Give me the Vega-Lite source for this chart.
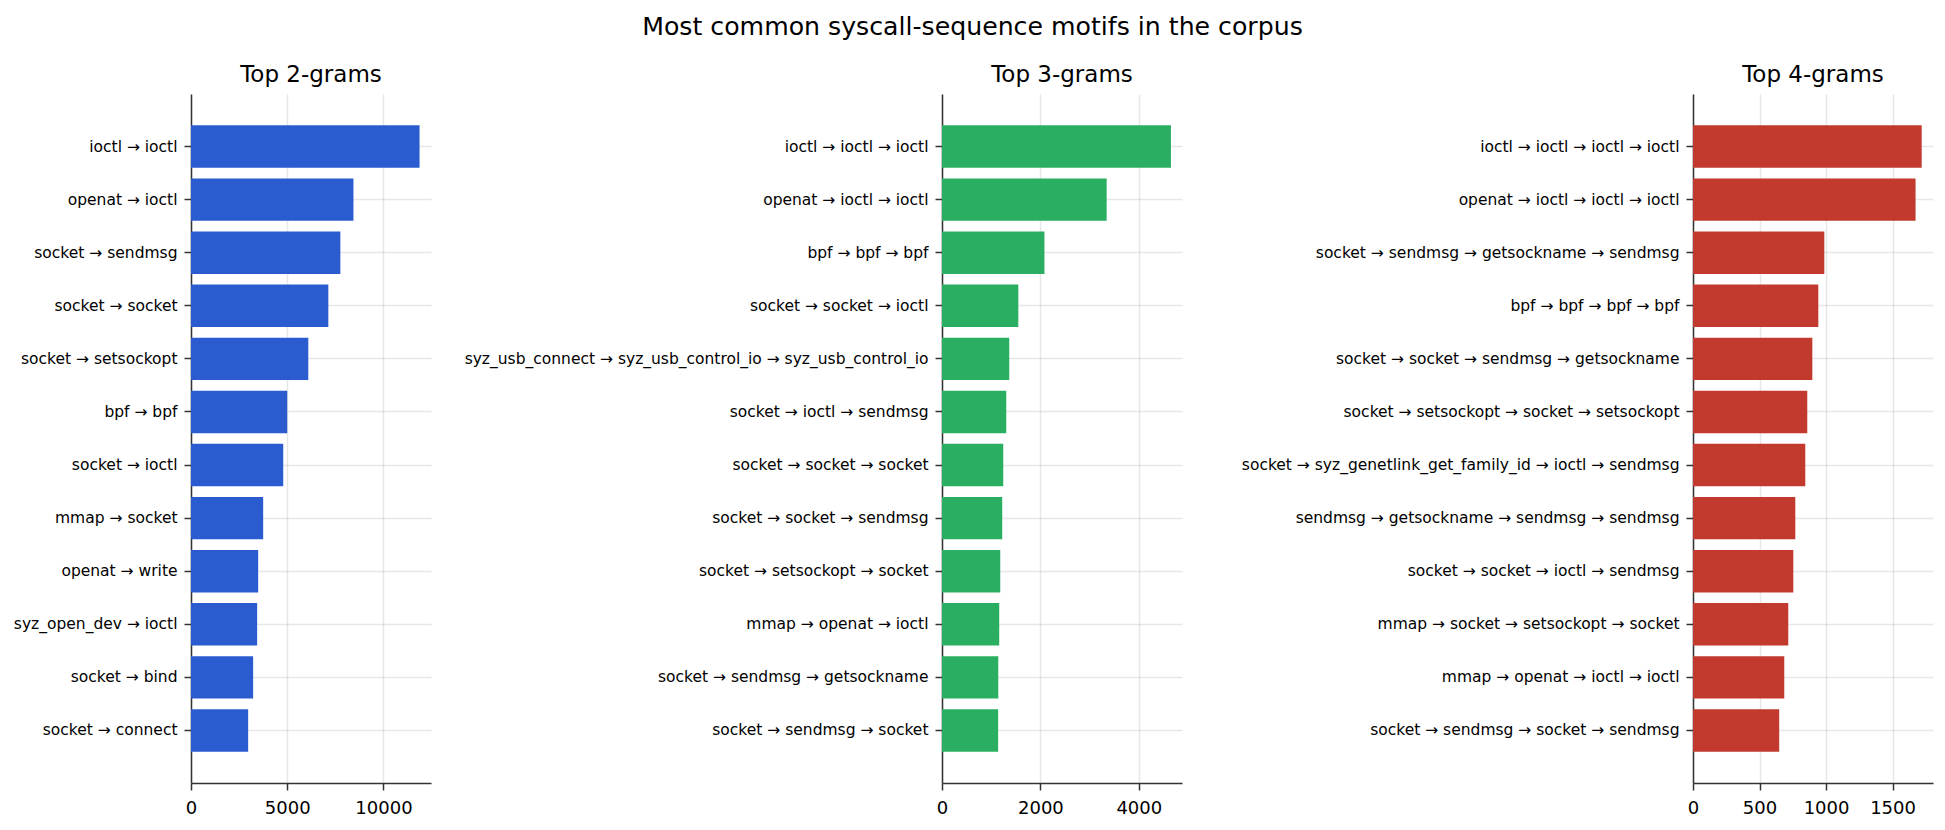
{
  "$schema": "https://vega.github.io/schema/vega-lite/v6.json",
  "padding": {"left": 0, "top": 14, "right": 12, "bottom": 0},
  "title": {
    "text": "Most common syscall-sequence motifs in the corpus",
    "fontSize": 25.2,
    "anchor": "middle",
    "baseline": "alphabetic",
    "offset": 4,
    "dx": 6
  },
  "spacing": 20,
  "datasets": {
    "bigrams": [
      {"motif": "ioctl → ioctl", "count": 11875},
      {"motif": "openat → ioctl", "count": 8440},
      {"motif": "socket → sendmsg", "count": 7760},
      {"motif": "socket → socket", "count": 7135},
      {"motif": "socket → setsockopt", "count": 6094},
      {"motif": "bpf → bpf", "count": 5000},
      {"motif": "socket → ioctl", "count": 4792},
      {"motif": "mmap → socket", "count": 3750},
      {"motif": "openat → write", "count": 3490},
      {"motif": "syz_open_dev → ioctl", "count": 3437},
      {"motif": "socket → bind", "count": 3229},
      {"motif": "socket → connect", "count": 2969}
    ],
    "trigrams": [
      {"motif": "ioctl → ioctl → ioctl", "count": 4653},
      {"motif": "openat → ioctl → ioctl", "count": 3347},
      {"motif": "bpf → bpf → bpf", "count": 2082},
      {"motif": "socket → socket → ioctl", "count": 1551},
      {"motif": "syz_usb_connect → syz_usb_control_io → syz_usb_control_io", "count": 1367},
      {"motif": "socket → ioctl → sendmsg", "count": 1306},
      {"motif": "socket → socket → socket", "count": 1245},
      {"motif": "socket → socket → sendmsg", "count": 1224},
      {"motif": "socket → setsockopt → socket", "count": 1184},
      {"motif": "mmap → openat → ioctl", "count": 1163},
      {"motif": "socket → sendmsg → getsockname", "count": 1144},
      {"motif": "socket → sendmsg → socket", "count": 1141}
    ],
    "fourgrams": [
      {"motif": "ioctl → ioctl → ioctl → ioctl", "count": 1719},
      {"motif": "openat → ioctl → ioctl → ioctl", "count": 1673},
      {"motif": "socket → sendmsg → getsockname → sendmsg", "count": 987},
      {"motif": "bpf → bpf → bpf → bpf", "count": 942},
      {"motif": "socket → socket → sendmsg → getsockname", "count": 897},
      {"motif": "socket → setsockopt → socket → setsockopt", "count": 859},
      {"motif": "socket → syz_genetlink_get_family_id → ioctl → sendmsg", "count": 844},
      {"motif": "sendmsg → getsockname → sendmsg → sendmsg", "count": 769},
      {"motif": "socket → socket → ioctl → sendmsg", "count": 754},
      {"motif": "mmap → socket → setsockopt → socket", "count": 716},
      {"motif": "mmap → openat → ioctl → ioctl", "count": 686},
      {"motif": "socket → sendmsg → socket → sendmsg", "count": 648}
    ]
  },
  "hconcat": [
    {
      "data": {"name": "bigrams"},
      "title": "Top 2-grams",
      "width": 240,
      "height": 689,
      "mark": {"type": "bar", "color": "#2a5cd0"},
      "encoding": {
        "y": {
          "field": "motif", "type": "nominal", "sort": "-x", "title": null,
          "scale": {"paddingInner": 0.2, "paddingOuter": 0.59},
          "axis": {"minExtent": 191}
        },
        "x": {
          "field": "count", "type": "quantitative", "title": null,
          "scale": {"domain": [0, 12469], "nice": false},
          "axis": {"values": [0, 5000, 10000], "format": "d"}
        }
      }
    },
    {
      "data": {"name": "trigrams"},
      "title": "Top 3-grams",
      "width": 240,
      "height": 689,
      "mark": {"type": "bar", "color": "#29ae62"},
      "encoding": {
        "y": {
          "field": "motif", "type": "nominal", "sort": "-x", "title": null,
          "scale": {"paddingInner": 0.2, "paddingOuter": 0.59},
          "axis": {"minExtent": 491}
        },
        "x": {
          "field": "count", "type": "quantitative", "title": null,
          "scale": {"domain": [0, 4878], "nice": false},
          "axis": {"values": [0, 2000, 4000], "format": "d"}
        }
      }
    },
    {
      "data": {"name": "fourgrams"},
      "title": "Top 4-grams",
      "width": 240,
      "height": 689,
      "mark": {"type": "bar", "color": "#c13a2d"},
      "encoding": {
        "y": {
          "field": "motif", "type": "nominal", "sort": "-x", "title": null,
          "scale": {"paddingInner": 0.2, "paddingOuter": 0.59},
          "axis": {"minExtent": 491}
        },
        "x": {
          "field": "count", "type": "quantitative", "title": null,
          "scale": {"domain": [0, 1804], "nice": false},
          "axis": {"values": [0, 500, 1000, 1500], "format": "d"}
        }
      }
    }
  ],
  "config": {
    "font": "DejaVu Sans",
    "view": {"stroke": null},
    "title": {"font": "DejaVu Sans", "fontSize": 23, "fontWeight": "normal", "color": "black", "baseline": "alphabetic", "offset": 7},
    "axis": {
      "zindex": 1,
      "labelFont": "DejaVu Sans",
      "labelColor": "black",
      "domainColor": "#333333",
      "domainWidth": 1.5,
      "tickColor": "#333333",
      "tickWidth": 1.5,
      "tickSize": 7,
      "grid": true,
      "gridColor": "#b0b0b0",
      "gridOpacity": 0.3,
      "gridWidth": 1.5
    },
    "axisX": {"labelFontSize": 18, "labelPadding": 9, "labelFlush": false},
    "axisY": {"labelFontSize": 15.5, "labelPadding": 7, "labelLimit": 700, "bandPosition": 0.5}
  }
}
